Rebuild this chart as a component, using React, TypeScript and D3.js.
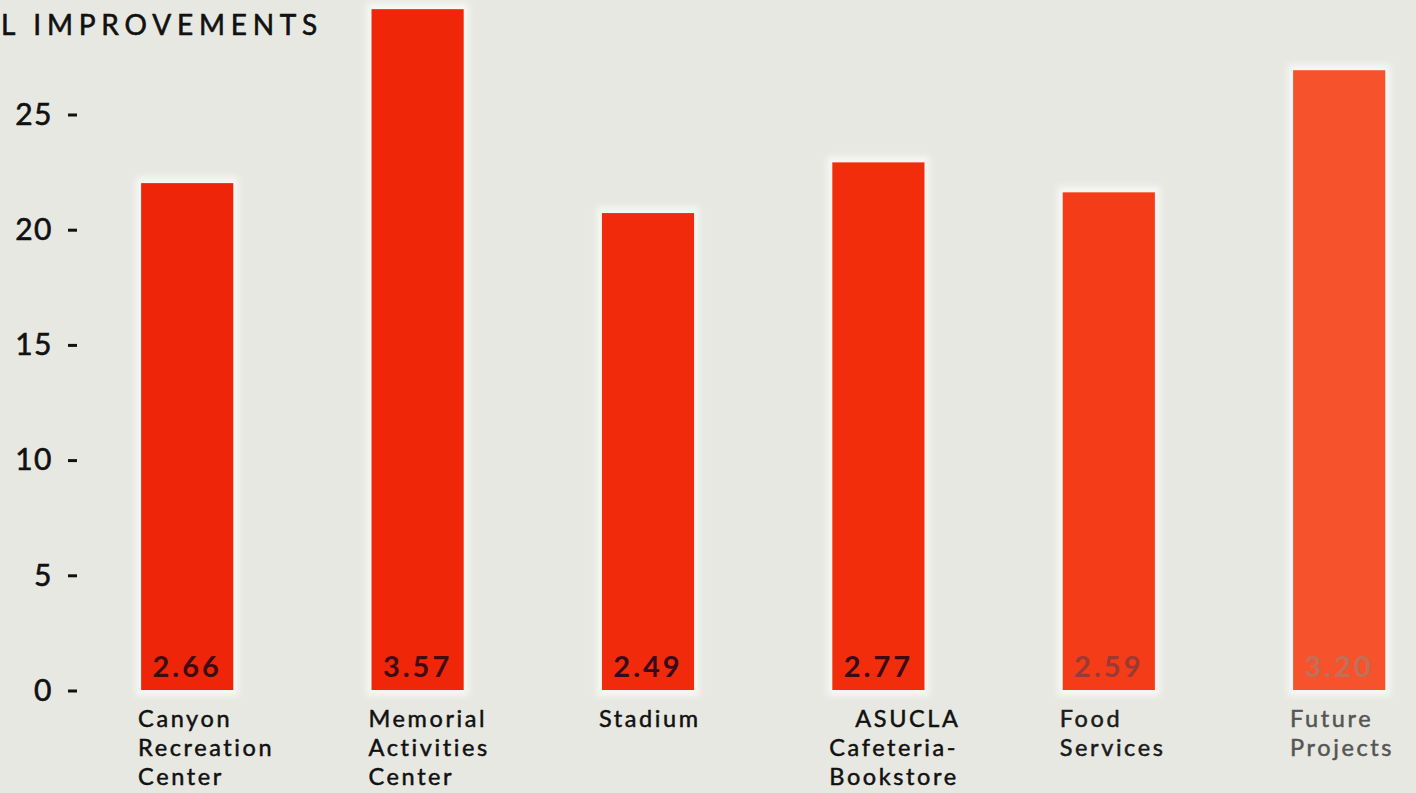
import React from "react";
import * as d3 from "d3";

const categories: string[][] = [
  ["Canyon", "Recreation", "Center"],
  ["Memorial", "Activities", "Center"],
  ["Stadium"],
  ["ASUCLA", "Cafeteria-", "Bookstore"],
  ["Food", "Services"],
  ["Future", "Projects"],
];
const values: number[] = [22.0, 29.55, 20.7, 22.9, 21.6, 26.9];
const barLabels: string[] = ["2.66", "3.57", "2.49", "2.77", "2.59", "3.20"];
const yTicks: number[] = [0, 5, 10, 15, 20, 25];
const title = "L IMPROVEMENTS";

const barColors = ["#ee2508", "#ef2607", "#f02a0a", "#f22d0c", "#f43c18", "#f6532c"];
const labelColors = ["#3f0b12", "#3f0b12", "#360a1a", "#3a0a14", "#9a3a34", "#c0705a"];
const catColors = ["#111", "#111", "#111", "#111", "#1a1a1a", "#555"];

const W = 1416;
const H = 793;

export default function App() {
  const x = d3
    .scaleBand<number>()
    .domain(d3.range(values.length))
    .range([72, 72 + 230.4 * 6])
    .paddingInner(0.6)
    .paddingOuter(0.3);
  const y = d3.scaleLinear().domain([0, 25]).range([690, 114]);
  const bw = x.bandwidth();
  const font = "Lato, 'DejaVu Sans', sans-serif";

  return (
    <svg
      width={W}
      height={H}
      style={{ position: "absolute", left: 0, top: 0 }}
      fontFamily={font}
    >
      <defs>
        <filter id="halo" x="-20%" y="-5%" width="140%" height="110%">
          <feGaussianBlur stdDeviation="3" />
        </filter>
      </defs>
      <rect width={W} height={H} fill="#e8e8e2" />
      <text
        x={1}
        y={35}
        fontSize={28}
        letterSpacing={5.8}
        fill="#111"
        stroke="#111"
        strokeWidth={0.6}
      >
        {title}
      </text>
      {yTicks.map((t) => (
        <g key={t}>
          <text
            x={53}
            y={y(t)}
            dy="0.36em"
            textAnchor="end"
            fontSize={30}
            letterSpacing={1.5}
            fill="#111"
            stroke="#111"
            strokeWidth={0.6}
          >
            {t}
          </text>
          <line x1={68} x2={77} y1={y(t) + 1} y2={y(t) + 1} stroke="#111" strokeWidth={3} />
        </g>
      ))}
      {values.map((v, i) => {
        const x0 = x(i)!;
        return (
          <g key={i}>
            <rect
              x={x0 - 5}
              y={y(v) - 6}
              width={bw + 10}
              height={y(0) - y(v) + 12}
              fill="#f6f8f4"
              filter="url(#halo)"
            />
            <rect x={x0} y={y(v)} width={bw} height={y(0) - y(v)} fill={barColors[i]} />
            <text
              x={x0 + bw / 2}
              y={677}
              textAnchor="middle"
              fontSize={29}
              fontWeight={700}
              letterSpacing={3}
              fill={labelColors[i]}
            >
              {barLabels[i]}
            </text>
            {categories[i].map((line, j) => (
              <text
                key={j}
                x={x0 - 3 + (i === 3 && j === 0 ? 26 : 0)}
                y={727 + j * 29}
                fontSize={23.5}
                letterSpacing={2.6}
                fill={catColors[i]}
                stroke={catColors[i]}
                strokeWidth={0.5}
              >
                {line}
              </text>
            ))}
          </g>
        );
      })}
    </svg>
  );
}
